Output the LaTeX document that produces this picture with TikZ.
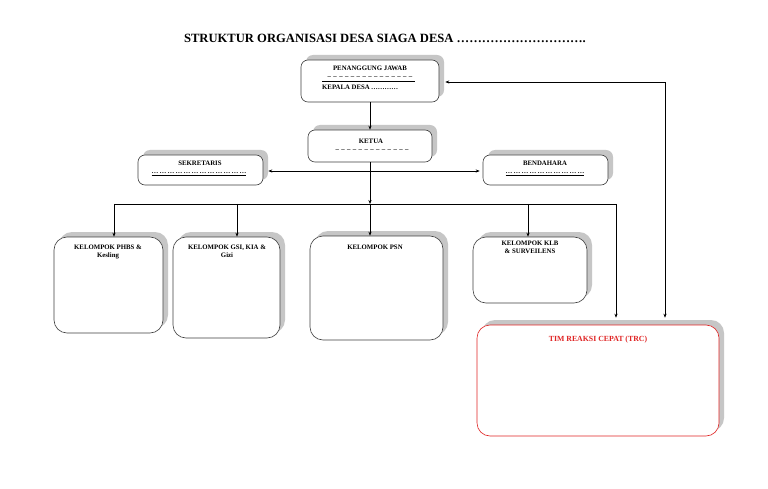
\documentclass[tikz,border=0pt]{standalone}
\usepackage{fontspec}
\setmainfont{Liberation Serif}
\usetikzlibrary{shadows,arrows.meta}
\definecolor{trcred}{HTML}{E02424}
\tikzset{
  x=1pt, y=-1pt,
  orgbox/.style={draw=black!75, fill=white, line width=0.6pt, rounded corners=7pt,
    general shadow={fill=gray!45, draw=none, shadow xshift=5pt, shadow yshift=5pt}},
  bigbox/.style={orgbox, rounded corners=13pt},
  lbl/.style={inner sep=0pt, font=\bfseries\fontsize{6.8}{8.2}\selectfont, align=center},
  conn/.style={line width=0.6pt, black},
  tip/.style={-{Stealth[length=4pt,width=3.2pt]}},
}
\newcommand{\dd}{\_\hspace{2.4pt}}
\newcommand{\ed}{…\hspace{1.2pt}}
\begin{document}
\begin{tikzpicture}
\useasboundingbox[fill=white] (0,0) rectangle (768,489);

\node[inner sep=0pt, font=\bfseries\fontsize{12.6}{14}\selectfont] (title) at (385,38)
  {STRUKTUR ORGANISASI DESA SIAGA DESA ………………………….};

% boxes
\node[orgbox, minimum width=138pt, minimum height=42pt] (pj) at (370,81) {};
\node[orgbox, minimum width=124pt, minimum height=32pt] (ketua) at (370,146) {};
\node[orgbox, minimum width=125pt, minimum height=30pt] (sek) at (200.5,170) {};
\node[orgbox, minimum width=125pt, minimum height=30pt] (bend) at (545.5,170) {};
\node[bigbox, minimum width=109pt, minimum height=96pt] (phbs) at (108.5,285) {};
\node[bigbox, minimum width=107pt, minimum height=101pt] (gsi) at (226.5,287.5) {};
\node[bigbox, minimum width=133pt, minimum height=104pt] (psn) at (376.5,288) {};
\node[bigbox, minimum width=114pt, minimum height=66pt] (klb) at (530,270) {};
\node[bigbox, draw=trcred, minimum width=242pt, minimum height=111pt] (trc) at (598,380.5) {};

% texts
\node[lbl] (pjt) at (370,68) {PENANGGUNG JAWAB};
\node[lbl] (pjd) at (370,77) {\dd\dd\dd\dd\dd\dd\dd\dd\dd\dd\dd\dd\dd\dd\_};
\coordinate (pjl1) at (322,81.5);
\coordinate (pjl2) at (415,81.5);
\draw[line width=0.5pt] (pjl1) -- (pjl2);
\node[lbl, anchor=west] (pjk) at (322,87.5) {KEPALA DESA\,…………};
\node[lbl] (kt) at (371,141) {KETUA};
\node[lbl] (kd) at (372,150) {\dd\dd\dd\dd\dd\dd\dd\dd\dd\dd\dd\dd\_};
\node[lbl] (st) at (200,163) {SEKRETARIS};
\node[lbl] (sd) at (199,174) {\underline{\ed\ed\ed\ed\ed\ed\ed\ed\ed\ed\ed…}};
\node[lbl] (bt) at (545,163) {BENDAHARA};
\node[lbl] (bd) at (545,174) {\underline{\ed\ed\ed\ed\ed\ed\ed\ed\ed…}};
\node[lbl, anchor=north] (phbst) at (108,245) {KELOMPOK PHBS \&\\Kesling};
\node[lbl, anchor=north] (gsit) at (227,245) {KELOMPOK GSI, KIA \&\\Gizi};
\node[lbl, anchor=north] (psnt) at (375,245) {KELOMPOK PSN};
\node[lbl, anchor=north] (klbt) at (530,241) {KELOMPOK KLB\\\& SURVEILENS};
\node[lbl, anchor=north, text=trcred, font=\bfseries\fontsize{7.8}{9}\selectfont] (trct) at (598,336) {TIM REAKSI CEPAT (TRC)};

% connectors
\draw[conn, tip] (pj.south) -- (ketua.north);
\draw[conn, {Stealth[length=4pt,width=3.2pt]}-{Stealth[length=4pt,width=3.2pt]}]
  ([xshift=5pt,yshift=-1pt]sek.east) -- ([xshift=-3pt,yshift=-1pt]bend.west);
\coordinate (bus) at (370,204);
\coordinate (b1) at (114,204);
\coordinate (b2) at (237,204);
\coordinate (b4) at (528,204);
\coordinate (b5) at (616,204);
\draw[conn, tip] (ketua.south) -- (bus);
\draw[conn] (b1) -- (b5);
\draw[conn, tip] (b1) -- (b1 |- phbs.north);
\draw[conn, tip] (b2) -- (b2 |- gsi.north);
\draw[conn, tip] (bus) -- (bus |- psn.north);
\draw[conn, tip] (b4) -- (b4 |- klb.north);
\draw[conn, tip] (b5) -- ([yshift=7pt]b5 |- trc.north);
\coordinate (rc) at (665,82);
\draw[conn, {Stealth[length=4pt,width=3.2pt]}-{Stealth[length=4pt,width=3.2pt]}]
  ([xshift=6pt,yshift=-1pt]pj.east) -- (rc) -- ([yshift=7pt]rc |- trc.north);
\end{tikzpicture}
\end{document}
